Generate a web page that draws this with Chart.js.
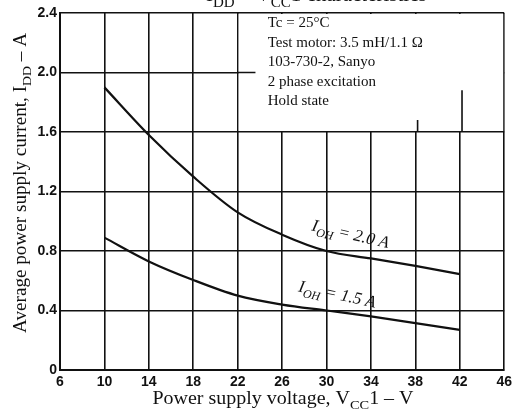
<!DOCTYPE html>
<html>
<head>
<meta charset="utf-8">
<script src="https://cdn.jsdelivr.net/npm/chart.js@4.4.1/dist/chart.umd.min.js"></script>
<style>
  html, body { margin: 0; padding: 0; background: #fff; }
  #wrap { width: 516px; height: 416px; }
</style>
</head>
<body>
<div id="wrap"><canvas id="grafico" width="516" height="416"></canvas></div>
<script>
// supply voltage VCC1 (V)
var vcc = [10, 14, 18, 22, 26, 30, 34, 38, 42];
// average supply current IDD (A)
var idd20 = [1.90, 1.58, 1.30, 1.06, 0.91, 0.80, 0.75, 0.70, 0.645];
var idd15 = [0.89, 0.73, 0.605, 0.50, 0.44, 0.40, 0.36, 0.315, 0.27];
var serieLabels = ['2.0', '1.5'];
var xTicks = [6, 10, 14, 18, 22, 26, 30, 34, 38, 42, 46];
var yTicks = [0, 0.4, 0.8, 1.2, 1.6, 2.0, 2.4];
var notas = ['Tc = 25\u00B0C', 'Test motor: 3.5 mH/1.1 \u03A9', '103-730-2, Sanyo', '2 phase excitation', 'Hold state'];

function pontos(xs, ys) {
    var arr = [];
    for (var i in xs) arr.push({x: xs[i], y: ys[i]});
    return arr;
}

// text with a subscript part: parts = [[text, isSub], ...]
function textoSub(ctx, parts, x, y, size, family, style) {
    var cx = x;
    for (var i in parts) {
        var sub = parts[i][1];
        ctx.font = style + ' ' + (sub ? Math.round(size * 0.72) : size) + 'px ' + family;
        ctx.fillText(parts[i][0], cx, y + (sub ? size * 0.28 : 0));
        cx += ctx.measureText(parts[i][0]).width;
    }
    return cx - x;
}
function larguraSub(ctx, parts, size, family, style) {
    var w = 0;
    for (var i in parts) {
        ctx.font = style + ' ' + (parts[i][1] ? Math.round(size * 0.72) : size) + 'px ' + family;
        w += ctx.measureText(parts[i][0]).width;
    }
    return w;
}
// centred text stretched to a given width
function textoLargura(ctx, parts, cx, y, size, alvo) {
    var w = larguraSub(ctx, parts, size, serif, '');
    ctx.save();
    ctx.translate(cx, y);
    ctx.scale(alvo / w, 1);
    textoSub(ctx, parts, -w / 2, 0, size, serif, '');
    ctx.restore();
}

var serif = '"Liberation Serif", "Times New Roman", serif';

var extras = {
    id: 'extras',
    beforeDatasetsDraw: function(chart) {
        var ctx = chart.ctx, sx = chart.scales.x, sy = chart.scales.y;
        // blank box for the notes
        var l = sx.getPixelForValue(22), r = sx.getPixelForValue(46);
        var t = sy.getPixelForValue(2.4), b = sy.getPixelForValue(1.6);
        ctx.save();
        ctx.fillStyle = '#fff';
        ctx.fillRect(l + 1, t + 1, r - l - 2, b - t - 2);
        ctx.strokeStyle = '#111';
        ctx.lineWidth = 1.6;
        ctx.beginPath();
        ctx.moveTo(l, sy.getPixelForValue(2.0)); ctx.lineTo(sx.getPixelForValue(23.6), sy.getPixelForValue(2.0));
        ctx.moveTo(sx.getPixelForValue(38.2), b); ctx.lineTo(sx.getPixelForValue(38.2), sy.getPixelForValue(1.68));
        ctx.moveTo(sx.getPixelForValue(42.2), b); ctx.lineTo(sx.getPixelForValue(42.2), sy.getPixelForValue(1.88));
        ctx.stroke();
        ctx.fillStyle = '#111';
        ctx.font = '15px ' + serif;
        ctx.textBaseline = 'alphabetic';
        for (var i in notas) {
            ctx.fillText(notas[i], l + 30, t + 14 + i * 19.5);
        }
        ctx.restore();
    },
    afterDraw: function(chart) {
        var ctx = chart.ctx, sx = chart.scales.x, sy = chart.scales.y;
        ctx.save();
        ctx.fillStyle = '#111';
        ctx.textBaseline = 'alphabetic';

        // curve labels
        var lbl = [[28.6, 0.94, 0.23, serieLabels[0]], [27.4, 0.53, 0.21, serieLabels[1]]];
        for (var k in lbl) {
            ctx.save();
            ctx.translate(sx.getPixelForValue(lbl[k][0]), sy.getPixelForValue(lbl[k][1]));
            ctx.rotate(lbl[k][2]);
            textoSub(ctx, [['I', false], ['OH', true], [' = ' + lbl[k][3] + ' A', false]], 0, 0, 17, serif, 'italic');
            ctx.restore();
        }

        // x title
        textoLargura(ctx, [['Power supply voltage, V', false], ['CC', true], ['1 \u2013 V', false]], 283, 404, 18, 261);

        // y title
        ctx.save();
        ctx.translate(26, 183);
        ctx.rotate(-Math.PI / 2);
        textoLargura(ctx, [['Average power supply current, I', false], ['DD', true], [' \u2013 A', false]], 0, 0, 18, 300);
        ctx.restore();

        // clipped heading remnant
        textoSub(ctx, [['I', false], ['DD', true], [' \u2013 V', false], ['CC', true], ['1 characteristics', false]], 206, 1, 21, serif, '');
        ctx.restore();
    }
};

var campo = document.getElementById('grafico');
var tickFont = {family: '"Liberation Sans Narrow", "Liberation Sans", Arial, sans-serif', size: 14, weight: 'bold'};

new Chart(campo, {
    type: 'line',
    data: {
        datasets: [
            {
                label: 'IOH = ' + serieLabels[0] + ' A',
                data: pontos(vcc, idd20),
                borderColor: '#111',
                borderWidth: 2.2,
                pointRadius: 0,
                fill: false,
                cubicInterpolationMode: 'monotone'
            },
            {
                label: 'IOH = ' + serieLabels[1] + ' A',
                data: pontos(vcc, idd15),
                borderColor: '#111',
                borderWidth: 2.2,
                pointRadius: 0,
                fill: false,
                cubicInterpolationMode: 'monotone'
            }
        ]
    },
    options: {
        responsive: false,
        animation: false,
        devicePixelRatio: 1,
        layout: {padding: {top: 13, right: 11, left: 0, bottom: 0}},
        plugins: {legend: {display: false}, tooltip: {enabled: false}},
        scales: {
            x: {
                type: 'linear',
                min: 6, max: 46,
                afterBuildTicks: function(s) { s.ticks = xTicks.map(function(v) { return {value: v}; }); },
                afterFit: function(s) { s.height = 46; },
                grid: {color: '#111', lineWidth: 1.6, drawTicks: false},
                border: {color: '#111', width: 2},
                ticks: {color: '#111', font: tickFont, padding: 4, maxRotation: 0}
            },
            y: {
                min: 0, max: 2.4,
                afterBuildTicks: function(s) { s.ticks = yTicks.map(function(v) { return {value: v}; }); },
                afterFit: function(s) { s.width = 60; },
                grid: {color: '#111', lineWidth: 1.6, drawTicks: false},
                border: {color: '#111', width: 2},
                ticks: {
                    color: '#111', font: tickFont, padding: 3,
                    callback: function(v) { return v === 0 ? '0' : v.toFixed(1); }
                }
            }
        }
    },
    plugins: [extras]
});
</script>
</body>
</html>
